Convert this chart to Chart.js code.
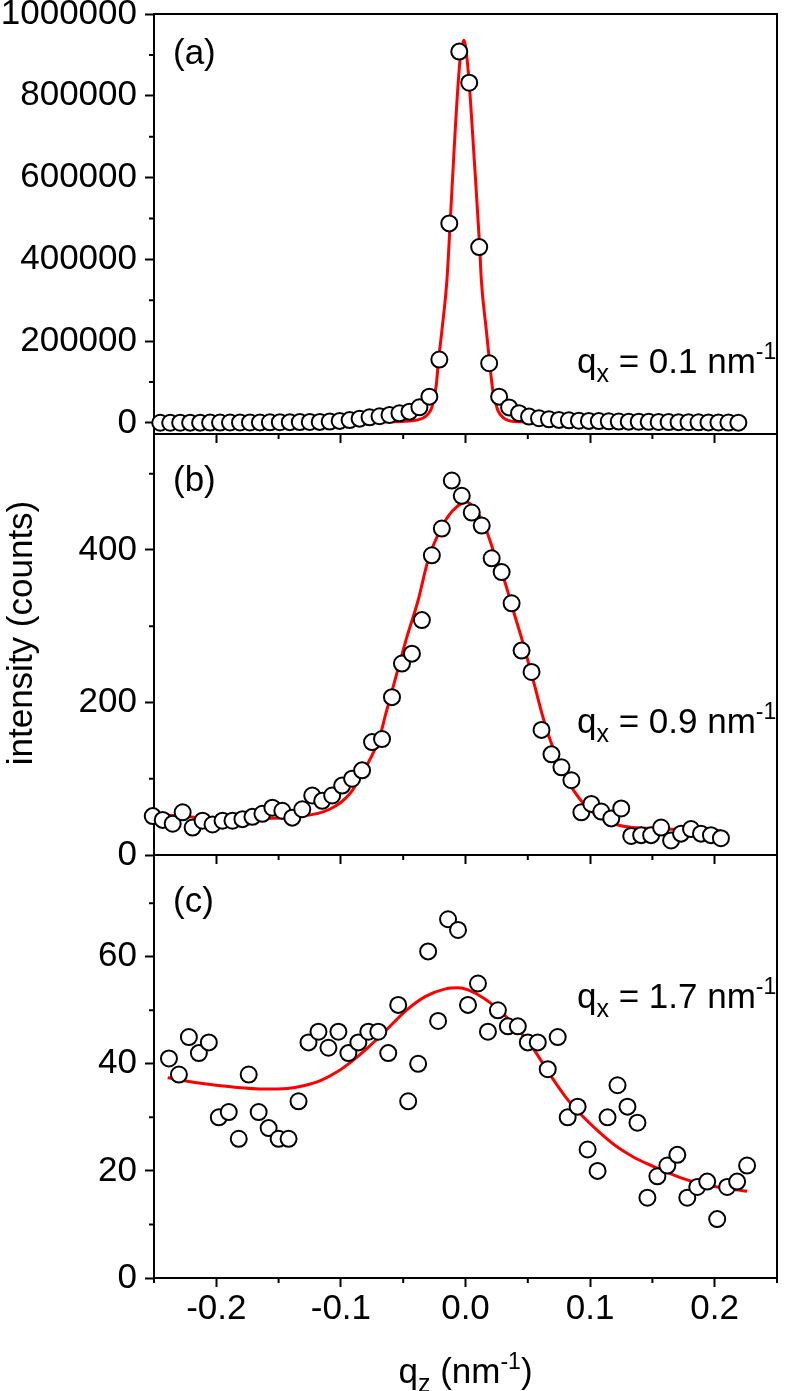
<!DOCTYPE html>
<html>
<head>
<meta charset="utf-8">
<title>Intensity vs q_z</title>
<script src="https://cdn.jsdelivr.net/npm/chart.js@4.4.1/dist/chart.umd.min.js"></script>
<style>
  body { margin: 0; background: #fff; }
  #wrap { position: relative; width: 787px; height: 1391px; }
  canvas { position: absolute; left: 0; }
</style>
</head>
<body>
<div id="wrap">
  <canvas id="panelA" width="787" height="450" style="top:0px"></canvas>
  <canvas id="panelB" width="787" height="450" style="top:420px"></canvas>
  <canvas id="panelC" width="787" height="550" style="top:841px"></canvas>
</div>
<script>
// shared axis
var xTicks = [-0.2, -0.1, 0.0, 0.1, 0.2];
var xMinorTicks = [-0.25, -0.15, -0.05, 0.05, 0.15, 0.25];
var panelTags = ['(a)', '(b)', '(c)'];
var qxValues = ['0.1', '0.9', '1.7'];

// (a) qx = 0.1
var qzA = [-0.245, -0.237, -0.229, -0.221, -0.213, -0.205, -0.197, -0.189, -0.181, -0.173,
  -0.165, -0.157, -0.149, -0.141, -0.133, -0.125, -0.117, -0.109, -0.101, -0.093,
  -0.085, -0.077, -0.069, -0.061, -0.053, -0.045, -0.037, -0.029, -0.021, -0.013,
  -0.005, 0.003, 0.011, 0.019, 0.027, 0.035, 0.043, 0.051, 0.059, 0.067,
  0.075, 0.083, 0.091, 0.099, 0.107, 0.115, 0.123, 0.131, 0.139, 0.147,
  0.155, 0.163, 0.171, 0.179, 0.187, 0.195, 0.203, 0.211, 0.219];
var countsA = [500, 500, 600, 700, 800, 900, 1000, 1100, 1200, 1300,
  1400, 1600, 1800, 2000, 2200, 2400, 2600, 3500, 5000, 7000,
  10500, 13800, 16400, 19600, 23700, 27600, 38300, 64300, 155000, 488000,
  908000, 832000, 430000, 146000, 64300, 38000, 24000, 15500, 11500, 9000,
  7500, 6500, 5500, 5000, 4500, 4000, 3500, 3200, 3000, 2700,
  2500, 2200, 2000, 1800, 1600, 1400, 1200, 1000, 800];
var fitQzA = [-0.245, -0.135, -0.072, -0.048, -0.040, -0.034, -0.030, -0.0268, -0.0236, -0.0216,
  -0.0189, -0.0149, -0.0123, -0.0084, -0.0044, -0.0013, 0.0019, 0.0074, 0.0114, 0.0127,
  0.0167, 0.0193, 0.0219, 0.0258, 0.031, 0.039, 0.063, 0.142, 0.219];
var fitA = [500, 1000, 2000, 4000, 6500, 12000, 22000, 40000, 89000, 154000,
  227000, 350000, 489000, 709000, 887000, 936000, 870000, 626000, 430000, 350000,
  227000, 150000, 80000, 32000, 11000, 3500, 2000, 1000, 500];
var yTicksA = [0, 200000, 400000, 600000, 800000, 1000000];
var yMinorA = [100000, 300000, 500000, 700000, 900000];

// (b) qx = 0.9
var qzB = [-0.251, -0.243, -0.235, -0.227, -0.219, -0.211, -0.203, -0.195, -0.187, -0.179,
  -0.171, -0.163, -0.155, -0.147, -0.139, -0.131, -0.123, -0.115, -0.107, -0.099,
  -0.091, -0.083, -0.075, -0.067, -0.059, -0.051, -0.043, -0.035, -0.027, -0.019,
  -0.011, -0.003, 0.005, 0.013, 0.021, 0.029, 0.037, 0.045, 0.053, 0.061,
  0.069, 0.077, 0.085, 0.093, 0.101, 0.109, 0.117, 0.125, 0.133, 0.141,
  0.149, 0.157, 0.165, 0.173, 0.181, 0.189, 0.197, 0.205];
var countsB = [51, 46, 41, 56, 36, 45, 40, 45, 45, 47,
  50, 54, 62, 58, 49, 60, 78, 71, 78, 91,
  100, 111, 148, 152, 207, 251, 264, 308, 393, 428,
  491, 471, 449, 432, 389, 371, 330, 268, 240, 164,
  132, 115, 98, 56, 67, 57, 48, 61, 25, 26,
  26, 36, 19, 28, 34, 28, 26, 22];
var fitQzB = [-0.251, -0.240, -0.214, -0.188, -0.161, -0.135, -0.109, -0.093, -0.080, -0.069,
  -0.064, -0.056, -0.047, -0.038, -0.030, -0.022, -0.014, -0.006, 0.001, 0.007,
  0.015, 0.023, 0.031, 0.039, 0.047, 0.055, 0.063, 0.071, 0.079, 0.087,
  0.095, 0.108, 0.121, 0.134, 0.147, 0.173, 0.205];
var fitB = [52, 52, 49, 47, 48, 50, 60, 80, 115, 154,
  185, 233, 286, 334, 387, 420, 444, 458, 463, 455,
  433, 396, 361, 317, 273, 225, 176, 137, 107, 84,
  67, 49, 40, 36, 35, 33, 32];
var yTicksB = [0, 200, 400];
var yMinorB = [100, 300, 500];

// (c) qx = 1.7
var qzC = [-0.238, -0.230, -0.222, -0.214, -0.206, -0.198, -0.190, -0.182, -0.174, -0.166,
  -0.158, -0.150, -0.142, -0.134, -0.126, -0.118, -0.110, -0.102, -0.094, -0.086,
  -0.078, -0.070, -0.062, -0.054, -0.046, -0.038, -0.030, -0.022, -0.014, -0.006,
  0.002, 0.010, 0.018, 0.026, 0.034, 0.042, 0.050, 0.058, 0.066, 0.074,
  0.082, 0.090, 0.098, 0.106, 0.114, 0.122, 0.130, 0.138, 0.146, 0.154,
  0.162, 0.170, 0.178, 0.186, 0.194, 0.202, 0.210, 0.218, 0.226];
var countsC = [41, 38, 45, 42, 44, 30, 31, 26, 38, 31,
  28, 26, 26, 33, 44, 46, 43, 46, 42, 44,
  46, 46, 42, 51, 33, 40, 61, 48, 67, 65,
  51, 55, 46, 50, 47, 47, 44, 44, 39, 45,
  30, 32, 24, 20, 30, 36, 32, 29, 15, 19,
  21, 23, 15, 17, 18, 11, 17, 18, 21];
var fitQzC = [-0.239, -0.214, -0.188, -0.161, -0.143, -0.130, -0.116, -0.103, -0.090, -0.077,
  -0.064, -0.048, -0.032, -0.016, -0.006, 0.002, 0.015, 0.029, 0.042, 0.055,
  0.068, 0.081, 0.094, 0.108, 0.121, 0.134, 0.147, 0.160, 0.173, 0.187,
  0.200, 0.213, 0.226];
var fitC = [37.4, 36.4, 35.7, 35.3, 35.4, 35.9, 36.9, 38.5, 40.7, 43.3,
  46.2, 49.9, 52.6, 54.0, 54.2, 53.8, 52.2, 49.6, 46.5, 42.6,
  37.9, 33.6, 30.2, 27.1, 24.6, 22.7, 21.2, 19.9, 18.7, 17.7,
  17.1, 16.6, 16.2];
var yTicksC = [0, 20, 40, 60];
var yMinorC = [10, 30, 50, 70];

var FONT = "'Liberation Sans', Arial, sans-serif";
Chart.defaults.font.family = FONT;
Chart.defaults.font.size = 35;
Chart.defaults.color = '#000';

function pairs(xs, ys) {
    return xs.map(function (x, i) { return { x: x, y: ys[i] }; });
}

// text with sub/superscripts, drawn piece by piece
function drawRich(ctx, parts, x, y, center) {
    var w = 0;
    parts.forEach(function (p) {
        ctx.font = (p.size || 35) + 'px ' + FONT;
        p.w = ctx.measureText(p.t).width;
        w += p.w;
    });
    var cx = center ? x - w / 2 : x;
    ctx.textAlign = 'left';
    ctx.textBaseline = 'alphabetic';
    ctx.fillStyle = '#000';
    parts.forEach(function (p) {
        ctx.font = (p.size || 35) + 'px ' + FONT;
        ctx.fillText(p.t, cx, y + (p.dy || 0));
        cx += p.w;
    });
}

function panelPlugin(p) {
    return {
        id: 'panel' + p.idx,
        beforeDatasetsDraw: function (chart) {
            var a = chart.chartArea, ctx = chart.ctx;
            var xs = chart.scales.x, ys = chart.scales.y;
            ctx.save();
            ctx.strokeStyle = '#000';
            ctx.lineWidth = 2;
            ctx.strokeRect(a.left, a.top, a.right - a.left, a.bottom - a.top);
            ctx.beginPath();
            xMinorTicks.forEach(function (v) {
                var px = xs.getPixelForValue(v);
                ctx.moveTo(px, a.bottom);
                ctx.lineTo(px, a.bottom + 5);
            });
            p.yMinor.forEach(function (v) {
                var py = ys.getPixelForValue(v);
                ctx.moveTo(a.left, py);
                ctx.lineTo(a.left - 5, py);
            });
            ctx.stroke();
            ctx.restore();
        },
        afterDraw: function (chart) {
            var a = chart.chartArea, ctx = chart.ctx;
            ctx.save();
            drawRich(ctx, [{ t: panelTags[p.idx] }], a.left + 19, a.top + p.tagDy);
            drawRich(ctx, [
                { t: 'q' },
                { t: 'x', size: 25, dy: 9 },
                { t: ' = ' + qxValues[p.idx] + ' nm' },
                { t: '-1', size: 23, dy: -14 }
            ], a.left + 423, a.top + p.qxDy);
            if (p.yTitle) {
                ctx.save();
                ctx.translate(22, a.top + 199);
                ctx.rotate(-Math.PI / 2);
                ctx.font = '35px ' + FONT;
                ctx.textAlign = 'center';
                ctx.textBaseline = 'middle';
                ctx.fillStyle = '#000';
                ctx.fillText('intensity (counts)', 0, 0);
                ctx.restore();
            }
            if (p.xTitle) {
                drawRich(ctx, [
                    { t: 'q' },
                    { t: 'z', size: 25, dy: 9 },
                    { t: ' (nm' },
                    { t: '-1', size: 23, dy: -14 },
                    { t: ')' }
                ], (a.left + a.right) / 2, a.bottom + 105, true);
            }
            ctx.restore();
        }
    };
}

function makePanel(id, p) {
    return new Chart(document.getElementById(id), {
        type: 'scatter',
        data: {
            datasets: [{
                data: pairs(p.qz, p.counts),
                pointRadius: 8,
                pointBorderWidth: 2,
                pointBackgroundColor: '#fff',
                pointBorderColor: '#000',
                showLine: false,
                clip: false,
                order: 0
            }, {
                data: pairs(p.fitQz, p.fit),
                showLine: true,
                pointRadius: 0,
                borderColor: '#ff0000',
                borderWidth: 3,
                cubicInterpolationMode: 'monotone',
                clip: false,
                order: 1
            }]
        },
        options: {
            responsive: false,
            animation: false,
            events: [],
            layout: { padding: { top: 14, right: 1, bottom: 0, left: 0 } },
            plugins: { legend: { display: false }, tooltip: { enabled: false } },
            scales: {
                x: {
                    type: 'linear',
                    min: -0.25,
                    max: 0.25,
                    afterBuildTicks: function (s) {
                        s.ticks = xTicks.map(function (v) { return { value: v }; });
                    },
                    afterFit: function (s) {
                        s.height = p.xHeight;
                        s.paddingLeft = 0;
                        s.paddingRight = 0;
                    },
                    ticks: {
                        display: p.xLabels,
                        autoSkip: false,
                        maxRotation: 0,
                        padding: 1,
                        callback: function (v) { return Number(v).toFixed(1); }
                    },
                    grid: { drawOnChartArea: false, tickLength: 9, tickWidth: 2, tickColor: '#000' },
                    border: { display: true, color: '#000', width: 2 }
                },
                y: {
                    type: 'linear',
                    min: p.yMin,
                    max: p.yMax,
                    afterBuildTicks: function (s) {
                        s.ticks = p.yTicks.map(function (v) { return { value: v }; });
                    },
                    afterFit: function (s) {
                        s.width = 154;
                        s.paddingTop = 0;
                        s.paddingBottom = 0;
                    },
                    ticks: {
                        autoSkip: false,
                        padding: 8,
                        callback: function (v) { return String(v); }
                    },
                    grid: { drawOnChartArea: false, tickLength: 9, tickWidth: 2, tickColor: '#000' },
                    border: { display: true, color: '#000', width: 2 }
                }
            }
        },
        plugins: [panelPlugin(p)]
    });
}

makePanel('panelA', {
    idx: 0, qz: qzA, counts: countsA, fitQz: fitQzA, fit: fitA,
    yMin: -27000, yMax: 1000000, yTicks: yTicksA, yMinor: yMinorA,
    xHeight: 16, xLabels: false, tagDy: 50, qxDy: 359
});
makePanel('panelB', {
    idx: 1, qz: qzB, counts: countsB, fitQz: fitQzB, fit: fitB,
    yMin: 0, yMax: 552, yTicks: yTicksB, yMinor: yMinorB,
    xHeight: 15, xLabels: false, tagDy: 57, qxDy: 299, yTitle: true
});
makePanel('panelC', {
    idx: 2, qz: qzC, counts: countsC, fitQz: fitQzC, fit: fitC,
    yMin: 0, yMax: 79, yTicks: yTicksC, yMinor: yMinorC,
    xHeight: 113, xLabels: true, tagDy: 57, qxDy: 153, xTitle: true
});
</script>
</body>
</html>
